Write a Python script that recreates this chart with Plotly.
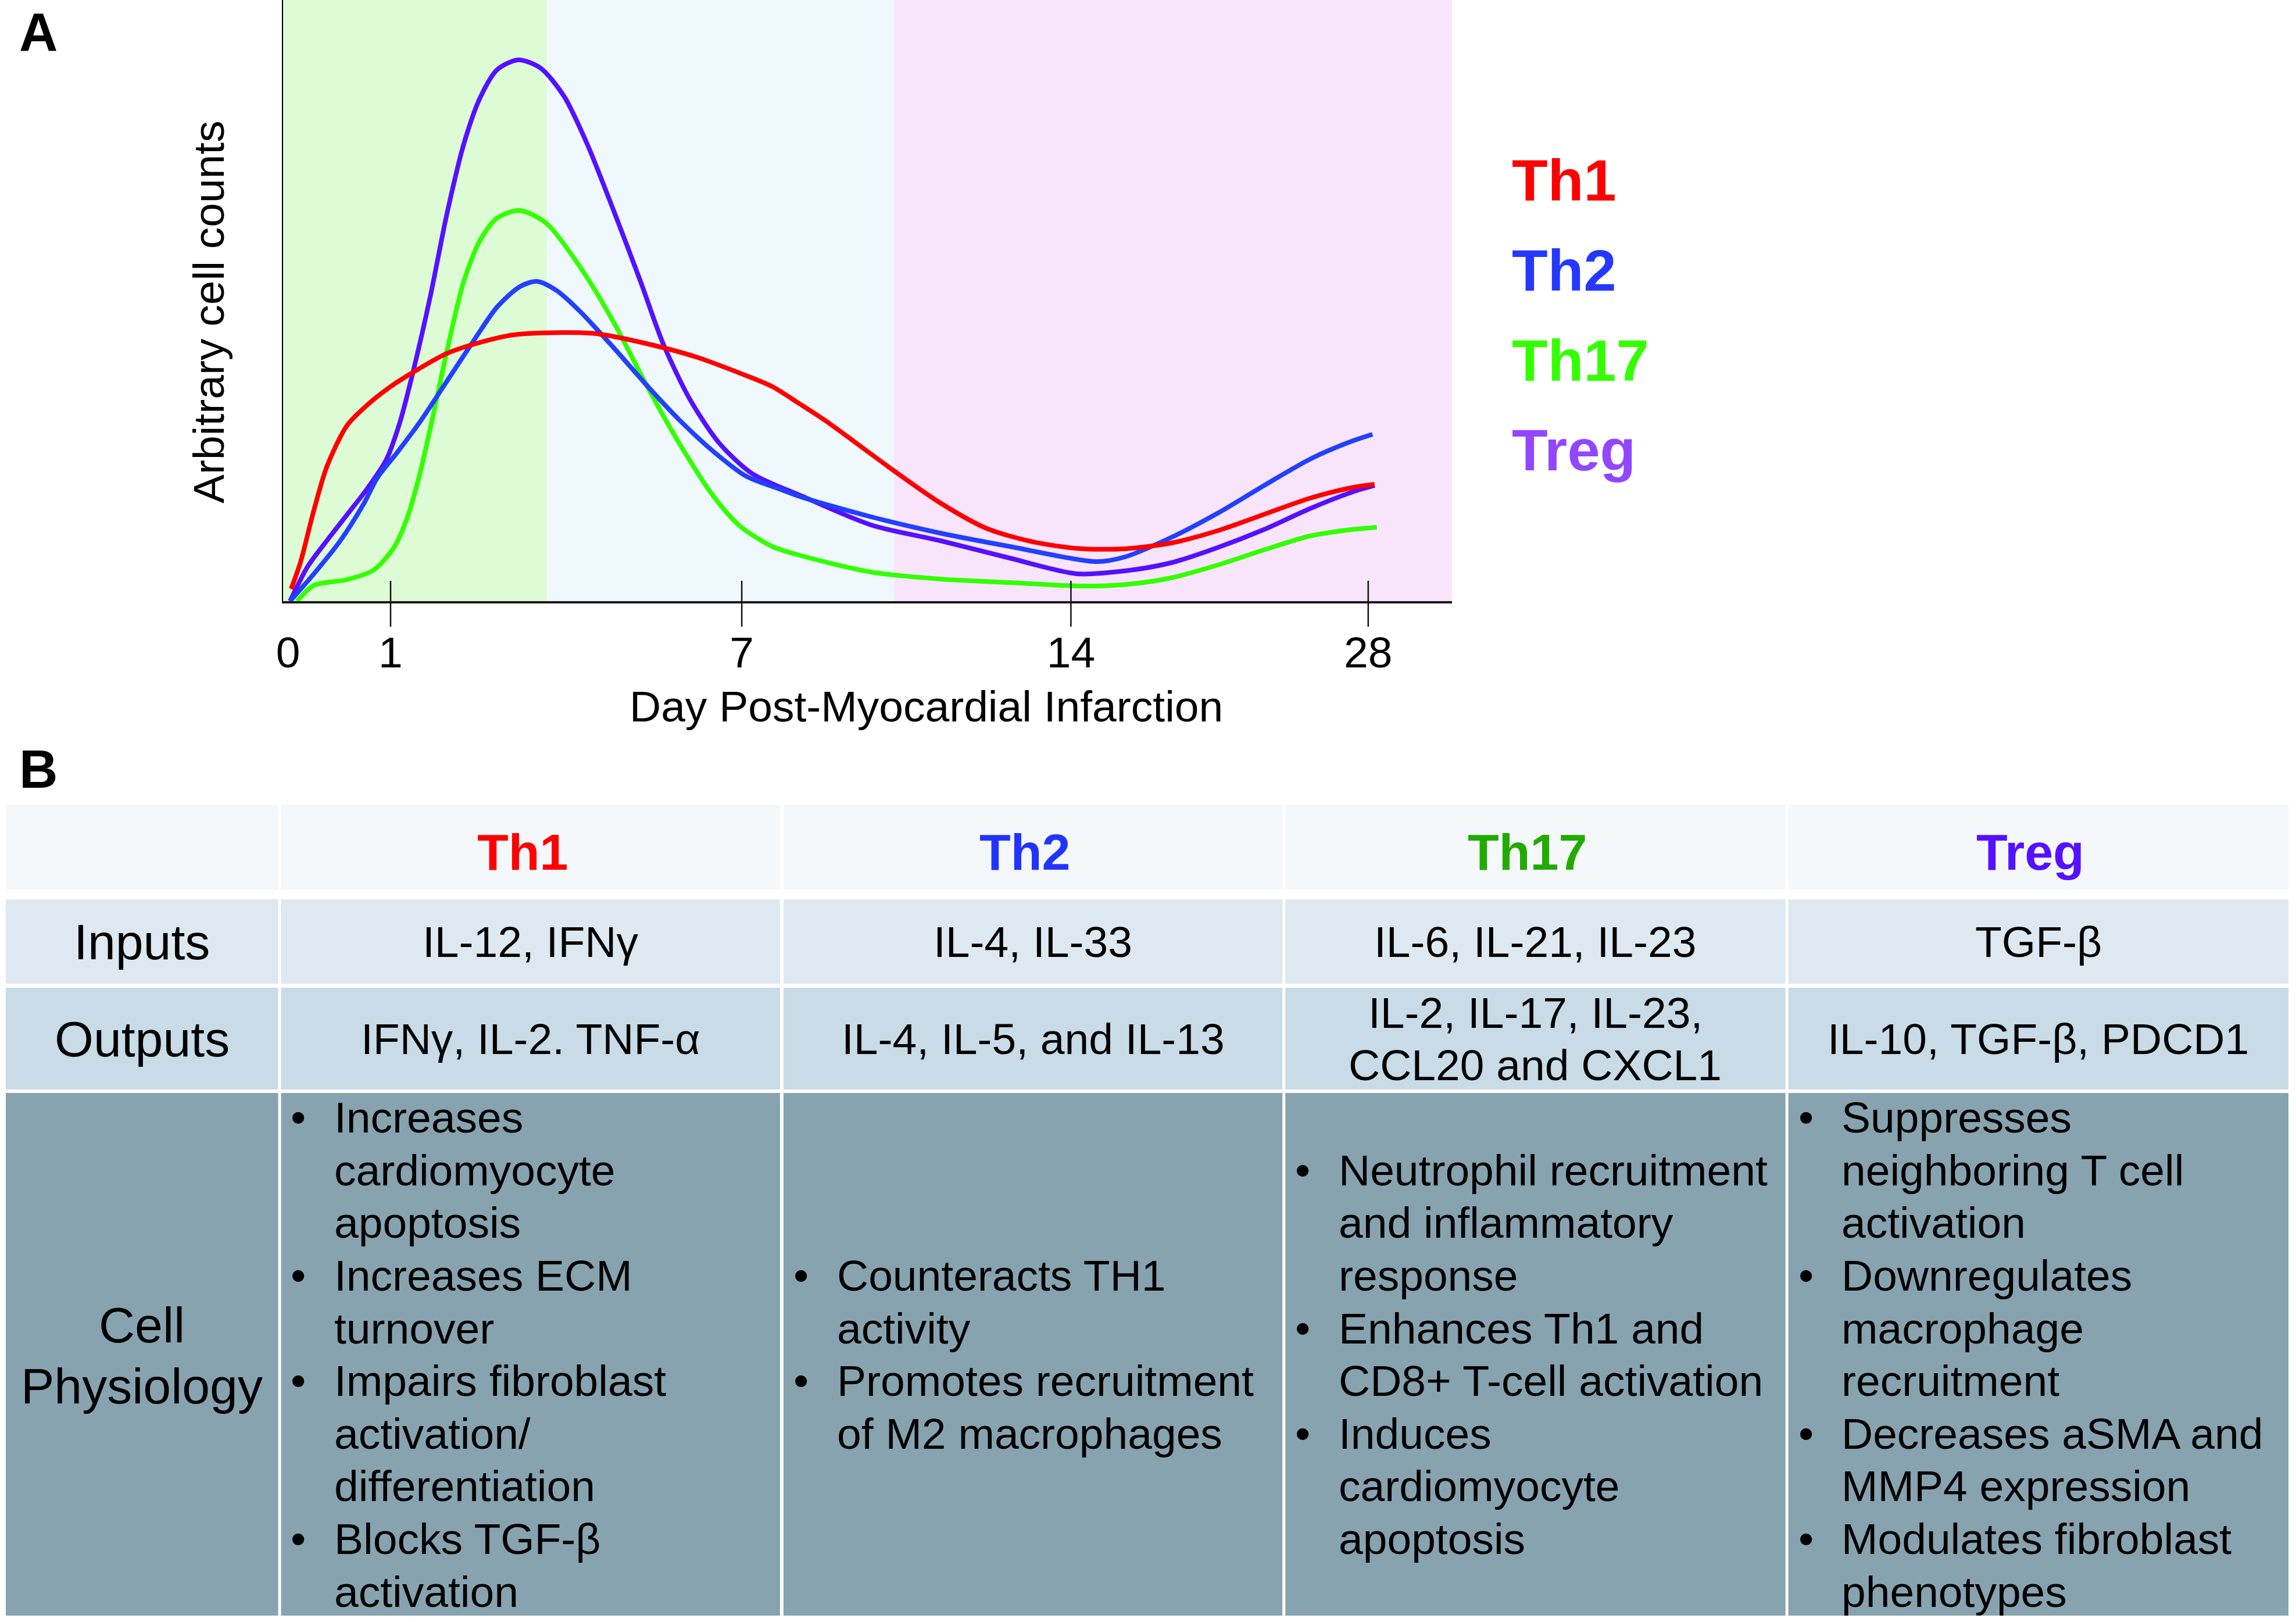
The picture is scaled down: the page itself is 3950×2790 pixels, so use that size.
import numpy as np
import plotly.graph_objects as go

W, H = 3950, 2790
FONT = "Liberation Sans, Arial, Helvetica, sans-serif"

# ---------------- Panel A data ----------------
series_names = ["Th1", "Th2", "Th17", "Treg"]
tick_days = [0, 1, 7, 14, 28]
tick_labels = ["0", "1", "7", "14", "28"]
phase_edge_days = [3.67, 10.24]

th1_days = [0.03, 0.12, 0.25, 0.38, 0.575, 0.77, 1.0, 1.39, 1.96, 2.53, 3.10, 3.95, 4.52, 5.37,
            6.22, 7.09, 7.65, 8.22, 8.77, 10.24, 11.22, 12.21, 13.19, 14.36, 16.54, 18.72, 20.9,
            23.08, 25.25, 27.2, 28.3]
th1_vals = [2.1, 6.6, 15.5, 23.2, 30.2, 33.7, 36.9, 39.4, 42.6, 44.5, 45.8, 46.2, 46.0, 44.3,
            42.0, 38.8, 36.9, 34.0, 31.1, 22.4, 16.9, 12.5, 10.2, 9.05, 9.0, 10.0, 12.1,
            14.9, 17.7, 19.5, 20.1]

th2_days = [0.02, 0.25, 0.51, 0.74, 0.87, 1.10, 1.50, 1.96, 2.42, 2.82, 3.21, 3.50, 3.84, 4.23,
            4.81, 5.37, 5.94, 6.52, 7.09, 7.80, 8.27, 9.75, 11.22, 12.70, 15.2, 16.54, 18.72,
            20.9, 23.08, 25.25, 27.0, 28.2]
th2_vals = [0, 4.65, 10.4, 16.8, 21.2, 25.4, 30.8, 37.8, 44.8, 50.6, 54.1, 55.0, 53.4, 49.9,
            43.6, 37.2, 31.1, 25.7, 21.5, 19.3, 17.9, 14.5, 11.7, 9.4, 6.8, 7.6, 10.95,
            15.1, 19.85, 24.4, 27.2, 28.7]

th17_days = [0.09, 0.25, 0.575, 0.83, 1.05, 1.28, 1.50, 1.73, 1.96, 2.25, 2.53, 2.82, 3.20, 3.66,
             4.23, 4.81, 5.37, 5.94, 6.52, 6.97, 7.65, 8.27, 9.75, 11.22, 12.7, 14.36, 16.54,
             18.72, 20.9, 23.08, 25.25, 27.2, 28.4]
th17_vals = [0, 2.7, 3.7, 5.3, 9.1, 14.2, 21.9, 32.1, 42.9, 55.0, 62.1, 65.9, 67.2, 65.0,
             57.6, 48.0, 37.2, 27.0, 18.0, 12.9, 9.4, 7.8, 5.0, 3.8, 3.2, 2.6, 2.85,
             4.0, 6.2, 8.8, 11.2, 12.3, 12.7]

treg_days = [0.02, 0.19, 0.35, 0.575, 0.77, 0.96, 1.16, 1.39, 1.68, 1.96, 2.25, 2.53, 2.82, 3.18,
             3.56, 3.96, 4.36, 4.81, 5.27, 5.66, 6.12, 6.63, 7.23, 8.27, 9.75, 11.22, 12.7,
             14.27, 16.54, 18.72, 20.9, 23.08, 25.25, 27.2, 28.3]
treg_vals = [0, 5.9, 9.75, 14.85, 19.3, 24.4, 30.8, 39.7, 52.5, 66.5, 78.6, 86.6, 91.4, 93.1,
             91.7, 86.9, 78.6, 67.2, 55.0, 44.2, 34.6, 27.0, 21.9, 18.1, 13.1, 10.4, 7.4,
             4.7, 5.2, 6.6, 9.2, 12.3, 15.9, 18.7, 19.9]

# ---------------- Panel B data ----------------
row_labels = ["Inputs", "Outputs", "Cell", "Physiology"]
inputs_text = ["IL-12, IFNγ", "IL-4, IL-33", "IL-6, IL-21, IL-23", "TGF-β"]
outputs_text = [["IFNγ, IL-2. TNF-α"], ["IL-4, IL-5, and IL-13"],
                ["IL-2, IL-17, IL-23,", "CCL20 and CXCL1"], ["IL-10, TGF-β, PDCD1"]]
physiology_text = [
    [["Increases", "cardiomyocyte", "apoptosis"], ["Increases ECM", "turnover"],
     ["Impairs fibroblast", "activation/", "differentiation"], ["Blocks TGF-β", "activation"]],
    [["Counteracts TH1", "activity"], ["Promotes recruitment", "of M2 macrophages"]],
    [["Neutrophil recruitment", "and inflammatory", "response"],
     ["Enhances Th1 and", "CD8+ T-cell activation"], ["Induces", "cardiomyocyte", "apoptosis"]],
    [["Suppresses", "neighboring T cell", "activation"], ["Downregulates", "macrophage", "recruitment"],
     ["Decreases aSMA and", "MMP4 expression"], ["Modulates fibroblast", "phenotypes"]],
]

# ---------------- styles / layout constants ----------------
line_colors = ["#FF0000", "#2340FF", "#33FF00", "#5511FF"]
legend_colors = ["#FF0000", "#2538FF", "#33FF00", "#9147FF"]
header_colors = ["#FF0000", "#2233FF", "#22AA00", "#5511FF"]
band_colors = ["#DDFBD5", "#EEF8FD", "#F8E5FC"]

X0_PX, X1_PX, YTOP_PX, YBOT_PX = 484, 2502, 0, 1034
TICK_POS = [493, 670, 1276, 1844, 2357]
Y_MAX = 103.4


def day_to_pos(d):
    d = np.asarray(d, float)
    pos = np.interp(d, tick_days, TICK_POS)
    slope = (TICK_POS[-1] - TICK_POS[-2]) / (tick_days[-1] - tick_days[-2])
    return np.where(d > tick_days[-1], TICK_POS[-1] + (d - tick_days[-1]) * slope, pos)


def py(y):
    return 1 - y / H


def px(x):
    return x / W


fig = go.Figure()

all_days = [th1_days, th2_days, th17_days, treg_days]
all_vals = [th1_vals, th2_vals, th17_vals, treg_vals]
draw_order = [2, 3, 1, 0]
for i in draw_order:
    fig.add_trace(go.Scatter(
        x=day_to_pos(all_days[i]), y=all_vals[i], mode="lines", name=series_names[i],
        line=dict(color=line_colors[i], width=8, shape="spline", smoothing=0.8),
        showlegend=False, hoverinfo="skip"))

shapes = []
# phase bands
edges = [X0_PX] + list(day_to_pos(phase_edge_days)) + [X1_PX]
for k in range(3):
    shapes.append(dict(type="rect", xref="x", yref="y", x0=float(edges[k]), x1=float(edges[k + 1]),
                       y0=0, y1=Y_MAX, fillcolor=band_colors[k], line=dict(width=0), layer="below"))
# tick marks crossing the axis
for d in tick_days[1:]:
    xp = float(day_to_pos(d))
    shapes.append(dict(type="line", xref="x", yref="paper", x0=xp, x1=xp,
                       y0=py(1078), y1=py(999), line=dict(color="#111111", width=2.5)))

# ---------------- table ----------------
COL_EDGES = [(6, 476), (481, 1342), (1348, 2209), (2214, 3077), (3082, 3945)]
ROW_EDGES = [(1384, 1530), (1547, 1692), (1699, 1874), (1880, 2779)]
ROW_COLORS = ["#F4F8FB", "#DEE8F0", "#C8DBE7", "#87A3AF"]
for (r0, r1), rc in zip(ROW_EDGES, ROW_COLORS):
    for (c0, c1) in COL_EDGES:
        shapes.append(dict(type="rect", xref="paper", yref="paper", x0=px(c0), x1=px(c1),
                           y0=py(r1), y1=py(r0), fillcolor=rc, line=dict(width=0), layer="below"))

annotations = []


def txt(text, x, y, size, color="#000000", bold=False, xanchor="center", angle=0):
    annotations.append(dict(text=text, x=px(x), y=py(y), xref="paper", yref="paper",
                            showarrow=False, xanchor=xanchor, yanchor="middle", textangle=angle,
                            borderpad=0,
                            font=dict(family=FONT, size=size, color=color,
                                      weight="bold" if bold else "normal")))


MID = 0.3465  # baseline -> box middle offset (em)

# panel letters
txt("A", 28, 87 - MID * 92, 92, bold=True, xanchor="left")
txt("B", 28, 1355 - MID * 92, 92, bold=True, xanchor="left")

# axis titles
txt("Day Post-Myocardial Infarction", 1594, 1241 - MID * 75, 75)
txt("Arbitrary cell counts", 356, 536, 75, angle=-90)

# legend labels
LEG_FS = 101
legend_baselines = [345, 500, 655, 809]
for name, col, b in zip(series_names, legend_colors, legend_baselines):
    txt(name, 2604, b - MID * LEG_FS, LEG_FS, color=col, bold=True, xanchor="left")

# table header
for j, name in enumerate(series_names):
    c0, c1 = COL_EDGES[j + 1]
    txt(name, (c0 + c1) / 2 - 14, 1465, 88, color=header_colors[j], bold=True)

LAB_FS = 86
lab_cx = sum(COL_EDGES[0]) / 2
txt(row_labels[0], lab_cx, sum(ROW_EDGES[1]) / 2, LAB_FS)
txt(row_labels[1], lab_cx, sum(ROW_EDGES[2]) / 2, LAB_FS)
txt(row_labels[2], lab_cx, 2308.6 - MID * LAB_FS, LAB_FS)
txt(row_labels[3], lab_cx, 2413.5 - MID * LAB_FS, LAB_FS)

FS = 75
CAP = 0.716 * FS
LG = 90.6
for j in range(4):
    c0, c1 = COL_EDGES[j + 1]
    cx = (c0 + c1) / 2
    txt(inputs_text[j], cx, sum(ROW_EDGES[1]) / 2, FS)
    lines = outputs_text[j]
    n = len(lines)
    rc = sum(ROW_EDGES[2]) / 2
    first_b = rc - ((n - 1) * 90 + CAP) / 2 + CAP
    for i, ln in enumerate(lines):
        txt(ln, cx, first_b + i * 90 - MID * FS, FS)
    # physiology bullets
    flat = []
    for item in physiology_text[j]:
        for k, ln in enumerate(item):
            flat.append((k == 0, ln))
    n = len(flat)
    rc = 2329
    first_b = rc - ((n - 1) * LG + CAP) / 2 + CAP
    for i, (is_first, ln) in enumerate(flat):
        ym = first_b + i * LG - MID * FS
        if is_first:
            txt("•", c0 + 30, ym, FS)
        txt(ln, c0 + 91, ym, FS, xanchor="left")

fig.update_layout(
    width=W, height=H, margin=dict(l=0, r=0, t=0, b=0),
    paper_bgcolor="white", plot_bgcolor="white",
    shapes=shapes, annotations=annotations, showlegend=False,
    xaxis=dict(domain=[px(X0_PX), px(X1_PX)], range=[X0_PX, X1_PX], showgrid=False,
               zeroline=False, showline=True, linewidth=4, linecolor="#1a1a1a",
               tickvals=list(day_to_pos(tick_days)), ticktext=tick_labels, ticks="",
               ticklabelstandoff=20,
               tickfont=dict(family=FONT, size=75, color="#000000"), fixedrange=True),
    yaxis=dict(domain=[py(YBOT_PX), py(YTOP_PX)], range=[0, Y_MAX], showgrid=False,
               zeroline=False, showline=True, linewidth=2, linecolor="#000000",
               showticklabels=False, ticks="", fixedrange=True),
)

post = ("document.body.style.margin='0';document.body.style.overflow='hidden';"
        "var gd=document.getElementById('{plot_id}');"
        "gd.style.position='absolute';gd.style.left='-8px';gd.style.top='0px';")
fig.write_html("out.html", config={"displayModeBar": False}, post_script=post)
